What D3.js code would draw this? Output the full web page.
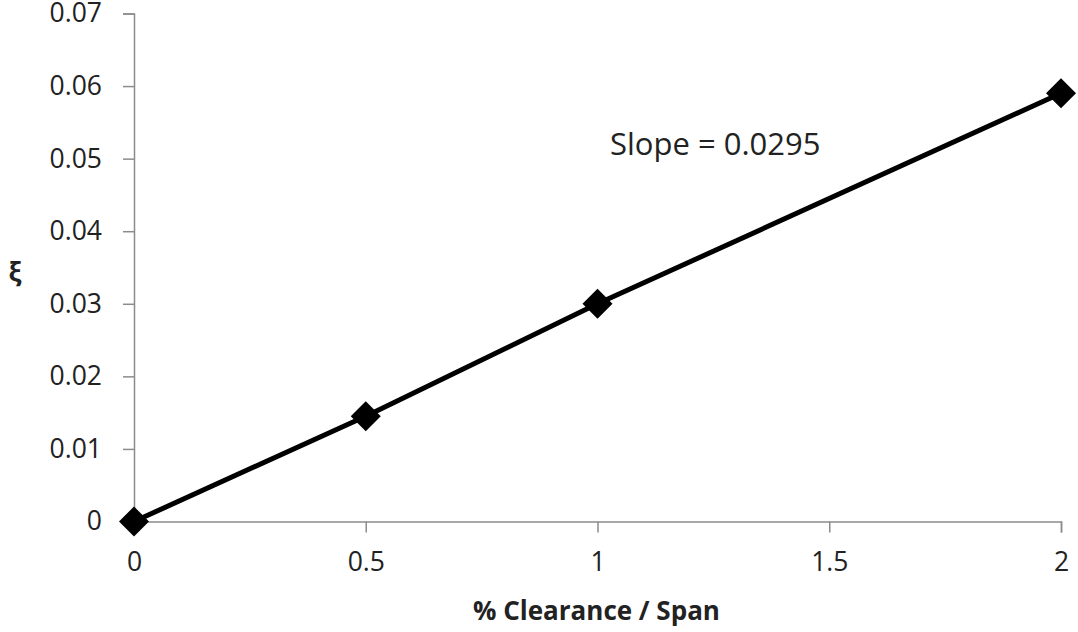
<!DOCTYPE html>
<html>
<head>
<meta charset="utf-8">
<script src="https://cdn.jsdelivr.net/npm/d3@7"></script>
<style>
  html, body { margin: 0; padding: 0; background: #fff; }
  svg text { font-family: "Open Sans", "Liberation Sans", sans-serif; fill: #222; }
</style>
</head>
<body>
<svg id="chart" width="1078" height="632"></svg>
<script>
// Damping ratio vs. clearance-to-span ratio
const clearance = [0, 0.5, 1, 2];
const xi = [0, 0.0145, 0.030, 0.059];
const xTicks = [0, 0.5, 1, 1.5, 2];
const yTicks = [0, 0.01, 0.02, 0.03, 0.04, 0.05, 0.06, 0.07];
const slopeLabel = "Slope = 0.0295";
const xTitle = "% Clearance / Span";
const yTitle = "ξ";

const svg = d3.select("#chart");
const plotLeft = 134, plotRight = 1061, plotTop = 13.5, plotBottom = 521.5;

const x = d3.scaleLinear().domain([0, 2]).range([plotLeft, plotRight]);
const y = d3.scaleLinear().domain([0, 0.07]).range([plotBottom, plotTop]);

const axisColor = "#8c8c8c";

// Y axis
const yAxis = svg.append("g")
  .attr("transform", `translate(${plotLeft},0)`)
  .call(d3.axisLeft(y).tickValues(yTicks).tickSize(11).tickPadding(21)
    .tickFormat(d => d === 0 ? "0" : d3.format(".2f")(d)));
// X axis
const xAxis = svg.append("g")
  .attr("transform", `translate(0,${plotBottom})`)
  .call(d3.axisBottom(x).tickValues(xTicks).tickSize(11).tickPadding(20)
    .tickFormat(d => String(d)));

[yAxis, xAxis].forEach(g => {
  g.select(".domain").attr("stroke", axisColor).attr("stroke-width", 1.5);
  g.selectAll(".tick line").attr("stroke", axisColor).attr("stroke-width", 1.5);
  g.selectAll(".tick text").style("font-size", "26.5px").attr("fill", "#222");
});
xAxis.selectAll(".tick text").attr("dy", "0.71em");

// Data line
const line = d3.line().x((d, i) => x(clearance[i])).y(d => y(d));
svg.append("path")
  .datum(xi)
  .attr("fill", "none")
  .attr("stroke", "#000")
  .attr("stroke-width", 5)
  .attr("d", line);

// Diamond markers
const diamond = d3.symbol().type(d3.symbolSquare).size(450);
svg.selectAll(".marker")
  .data(xi)
  .join("path")
  .attr("class", "marker")
  .attr("d", diamond)
  .attr("fill", "#000")
  .attr("transform", (d, i) => `translate(${x(clearance[i])},${y(d)}) rotate(45)`);

// Slope annotation
svg.append("text")
  .attr("x", 610).attr("y", 155)
  .style("font-size", "31px")
  .text(slopeLabel);

// Axis titles
svg.append("text")
  .attr("x", 596.5).attr("y", 620)
  .attr("text-anchor", "middle")
  .style("font-size", "26px").style("font-weight", "bold")
  .text(xTitle);

svg.append("text")
  .attr("x", 15).attr("y", 282)
  .attr("text-anchor", "middle")
  .style("font-size", "26px").style("font-weight", "bold")
  .text(yTitle);
</script>
</body>
</html>
